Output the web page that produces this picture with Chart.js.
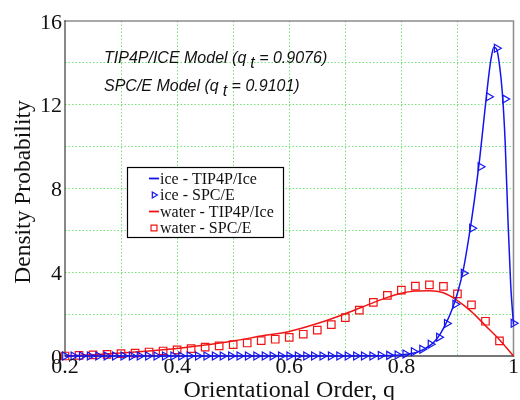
<!DOCTYPE html>
<html>
<head>
<meta charset="utf-8">
<script src="https://cdn.jsdelivr.net/npm/chart.js@4/dist/chart.umd.min.js"></script>
<style>
  html, body { margin: 0; padding: 0; background: #fff; }
</style>
</head>
<body>
<canvas id="chart" width="520" height="400"></canvas>
<script>
// Orientational order distributions of ice and liquid water for two water models

// ice, TIP4P/Ice (smooth curve)
const iceTip4pQ = [0.2, 0.3, 0.4, 0.5, 0.6, 0.7, 0.75, 0.78, 0.8, 0.81, 0.82, 0.83, 0.84, 0.85, 0.86, 0.87, 0.88, 0.89, 0.9,
                   0.91, 0.92, 0.93, 0.94, 0.95, 0.955, 0.96, 0.965, 0.97, 0.975, 0.98, 0.985, 0.99, 0.995, 1.0];
const iceTip4pP = [0, 0, 0, 0, 0, 0, 0.01, 0.02, 0.05, 0.08, 0.13, 0.21, 0.32, 0.48, 0.72, 1.08, 1.58, 2.2, 3.0,
                   4.05, 5.6, 7.4, 9.5, 12.0, 13.2, 14.2, 14.75, 14.65, 13.9, 12.6, 10.3, 6.6, 3.4, 1.5];

// ice, SPC/E (triangle markers)
const iceSpceQ = [0.200, 0.215, 0.230, 0.244, 0.259, 0.274, 0.289, 0.304, 0.319, 0.333, 0.348, 0.363, 0.378, 0.393,
                  0.407, 0.422, 0.437, 0.452, 0.467, 0.481, 0.496, 0.511, 0.526, 0.541, 0.556, 0.570, 0.585, 0.600,
                  0.615, 0.630, 0.644, 0.659, 0.674, 0.689, 0.704, 0.719, 0.733, 0.748, 0.763, 0.778, 0.793, 0.807,
                  0.822, 0.837, 0.852, 0.867, 0.881, 0.896, 0.911, 0.926, 0.941, 0.956, 0.970, 0.985, 1.000];
const iceSpceP = [0, 0, 0, 0, 0, 0, 0, 0, 0, 0, 0, 0, 0, 0,
                  0, 0, 0, 0, 0, 0, 0, 0, 0, 0, 0, 0, 0, 0,
                  0, 0, 0, 0, 0, 0, 0, 0, 0, 0, 0.02, 0.03, 0.05, 0.1,
                  0.2, 0.32, 0.56, 0.9, 1.55, 2.47, 3.95, 6.1, 9.04, 12.38, 14.7, 12.27, 1.56];

// water, TIP4P/Ice (smooth curve)
const waterTip4pQ = [0.2, 0.25, 0.3, 0.35, 0.4, 0.45, 0.5, 0.55, 0.6, 0.65, 0.7, 0.75, 0.775, 0.8, 0.825,
                     0.85, 0.875, 0.9, 0.925, 0.95, 0.975, 1.0];
const waterTip4pP = [0.0, 0.06, 0.14, 0.24, 0.36, 0.52, 0.72, 0.95, 1.17, 1.55, 2.02, 2.55, 2.8, 3.0, 3.1,
                     3.12, 3.02, 2.65, 2.12, 1.45, 0.78, 0.0];

// water, SPC/E (square markers)
const waterSpceQ = [0.2, 0.225, 0.25, 0.275, 0.3, 0.325, 0.35, 0.375, 0.4, 0.425, 0.45, 0.475, 0.5, 0.525,
                    0.55, 0.575, 0.6, 0.625, 0.65, 0.675, 0.7, 0.725, 0.75, 0.775, 0.8, 0.825, 0.85, 0.875,
                    0.9, 0.925, 0.95, 0.975];
const waterSpceP = [0.0, 0.03, 0.05, 0.08, 0.11, 0.14, 0.19, 0.24, 0.29, 0.35, 0.42, 0.48, 0.54, 0.62,
                    0.73, 0.80, 0.89, 1.04, 1.24, 1.5, 1.83, 2.19, 2.56, 2.9, 3.15, 3.34, 3.4, 3.33,
                    2.97, 2.44, 1.66, 0.72];

const seriesNames = ['ice - TIP4P/Ice', 'ice - SPC/E', 'water - TIP4P/Ice', 'water - SPC/E'];
const xTickLabels = ['0.2', '0.4', '0.6', '0.8', '1'];
const yTickLabels = ['0', '4', '8', '12', '16'];
const modelNotes = [
  { model: 'TIP4P/ICE Model', qt: '0.9076' },
  { model: 'SPC/E Model', qt: '0.9101' }
];
const xTitle = 'Orientational Order, q';
const yTitle = 'Density Probability';

const BLUE = '#1414f0';
const RED = '#f01414';
const GRID = 'rgba(110, 225, 110, 0.95)';
const SERIF = '"Liberation Serif", "Times New Roman", serif';
const SANS = '"Liberation Sans", Arial, sans-serif';

const pts = (xs, ys) => xs.map((x, i) => ({ x: x, y: ys[i] }));

const frameAndLabels = {
  id: 'frameAndLabels',
  beforeDatasetsDraw(chart) {
    const { ctx, chartArea: a } = chart;
    ctx.save();
    ctx.lineCap = 'square';
    // top and right edges of the frame
    ctx.strokeStyle = '#8c8c8c';
    ctx.lineWidth = 1.5;
    ctx.beginPath();
    ctx.moveTo(a.left, a.top);
    ctx.lineTo(a.right, a.top);
    ctx.lineTo(a.right, a.bottom);
    ctx.stroke();
    // axes
    ctx.strokeStyle = '#4a4a4a';
    ctx.lineWidth = 1.3;
    ctx.beginPath();
    ctx.moveTo(a.left, a.top);
    ctx.lineTo(a.left, a.bottom);
    ctx.lineTo(a.right, a.bottom);
    ctx.stroke();
    ctx.restore();
  },
  afterDraw(chart) {
    const { ctx, chartArea: a, scales } = chart;
    const xs = scales.x, ys = scales.y;
    ctx.save();
    ctx.fillStyle = '#111';

    // tick labels
    ctx.font = '22px ' + SERIF;
    ctx.textBaseline = 'alphabetic';
    ctx.textAlign = 'right';
    yTickLabels.forEach(t => {
      ctx.fillText(t, a.left - 3, ys.getPixelForValue(parseFloat(t)) + 7.5);
    });
    ctx.textAlign = 'center';
    xTickLabels.forEach(t => {
      ctx.fillText(t, xs.getPixelForValue(parseFloat(t)), a.bottom + 17);
    });

    // axis titles
    ctx.font = '24px ' + SERIF;
    ctx.fillText(xTitle, (a.left + a.right) / 2 + 0, a.bottom + 41);
    ctx.save();
    ctx.font = '23.5px ' + SERIF;
    ctx.translate(30, 192);
    ctx.rotate(-Math.PI / 2);
    ctx.fillText(yTitle, 0, 0);
    ctx.restore();

    // model notes with subscripted q_t
    ctx.textAlign = 'left';
    modelNotes.forEach((n, i) => {
      const base = 63 + i * 28;
      let x = 104;
      ctx.font = 'italic 16px ' + SANS;
      const head = n.model + ' (q';
      ctx.fillText(head, x, base);
      x += ctx.measureText(head).width + 4;
      ctx.fillText('t', x, base + 5);
      x += ctx.measureText('t').width;
      ctx.fillText(' = ' + n.qt + ')', x, base);
    });

    // legend
    const lx = 127.5, ly = 167.5, lw = 156, lh = 70;
    ctx.fillStyle = '#fff';
    ctx.fillRect(lx, ly, lw, lh);
    ctx.strokeStyle = '#000';
    ctx.lineWidth = 1.2;
    ctx.strokeRect(lx, ly, lw, lh);
    ctx.font = '16px ' + SERIF;
    ctx.textBaseline = 'middle';
    chart.data.datasets.forEach((ds, i) => {
      const cy = 178.5 + i * 16.5;
      const cx = 154;
      if (ds.showLine) {
        ctx.strokeStyle = ds.borderColor;
        ctx.lineWidth = 1.8;
        ctx.beginPath();
        ctx.moveTo(cx - 5, cy);
        ctx.lineTo(cx + 5, cy);
        ctx.stroke();
      } else {
        ctx.strokeStyle = ds.borderColor;
        ctx.fillStyle = 'rgba(0,0,0,0)';
        ctx.lineWidth = 1.2;
        Chart.helpers.drawPoint(ctx, {
          pointStyle: ds.pointStyle,
          rotation: ds.rotation || 0,
          radius: ds.pointStyle === 'rect' ? 4.2 : 3.4,
          borderWidth: 1.2
        }, cx, cy);
      }
      ctx.fillStyle = '#111';
      ctx.fillText(seriesNames[i], 160, cy + 1);
    });
    ctx.restore();
  }
};

const gridColor = (lo, hi) => c =>
  (c.tick && (c.tick.value <= lo + 1e-6 || c.tick.value >= hi - 1e-6)) ? 'rgba(0,0,0,0)' : GRID;

new Chart(document.getElementById('chart'), {
  type: 'scatter',
  data: {
    datasets: [
      {
        label: seriesNames[0],
        data: pts(iceTip4pQ, iceTip4pP),
        showLine: true,
        borderColor: BLUE,
        borderWidth: 1.5,
        pointRadius: 0,
        cubicInterpolationMode: 'monotone',
        clip: false
      },
      {
        label: seriesNames[1],
        data: pts(iceSpceQ, iceSpceP),
        showLine: false,
        borderColor: BLUE,
        backgroundColor: 'rgba(0,0,0,0)',
        pointStyle: 'triangle',
        rotation: 90,
        pointRadius: 4.6,
        pointBorderWidth: 1.2,
        clip: false
      },
      {
        label: seriesNames[2],
        data: pts(waterTip4pQ, waterTip4pP),
        showLine: true,
        borderColor: RED,
        borderWidth: 1.5,
        pointRadius: 0,
        cubicInterpolationMode: 'monotone',
        clip: false
      },
      {
        label: seriesNames[3],
        data: pts(waterSpceQ, waterSpceP),
        showLine: false,
        borderColor: RED,
        backgroundColor: 'rgba(0,0,0,0)',
        pointStyle: 'rect',
        pointRadius: 5.3,
        pointBorderWidth: 1.2,
        clip: false
      }
    ]
  },
  options: {
    responsive: false,
    animation: false,
    layout: { padding: { left: 65, right: 2, top: 21, bottom: 44 } },
    plugins: { legend: { display: false }, tooltip: { enabled: false } },
    scales: {
      x: {
        type: 'linear', min: 0.2, max: 1.0,
        ticks: { display: false, stepSize: 0.1 },
        grid: { color: gridColor(0.2, 1.0), drawTicks: false, lineWidth: 1 },
        border: { display: false, dash: [1.5, 2] }
      },
      y: {
        type: 'linear', min: 0, max: 16,
        ticks: { display: false, stepSize: 2 },
        grid: { color: gridColor(0, 16), drawTicks: false, lineWidth: 1 },
        border: { display: false, dash: [1.5, 2] }
      }
    }
  },
  plugins: [frameAndLabels]
});
</script>
</body>
</html>
